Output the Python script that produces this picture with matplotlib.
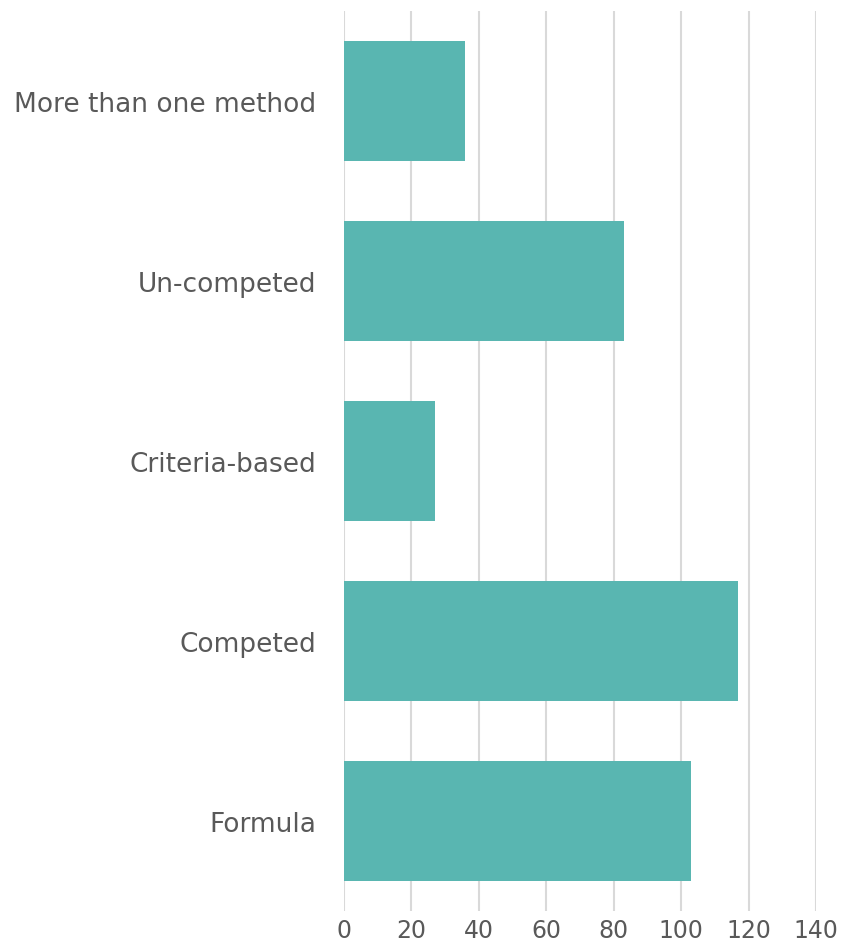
import matplotlib
matplotlib.use('Agg')
import matplotlib.pyplot as plt

plt.rcParams['font.family'] = ['DejaVu Sans']

# data (top to bottom as shown)
categories = ['More than one method', 'Un-competed', 'Criteria-based', 'Competed', 'Formula']
values = [36, 83, 27, 117, 103]
xticks = [0, 20, 40, 60, 80, 100, 120, 140]

fig = plt.figure(figsize=(8.41, 9.45), dpi=100)
ax = fig.add_axes([344 / 841, 1 - 912 / 945, (816 - 344) / 841, 900 / 945])

pos = list(range(len(categories)))
ax.barh(pos, values, height=0.667, color='#59B6B1', zorder=3)

ax.set_ylim(len(categories) - 0.5, -0.5)
ax.set_xlim(0, 140)
ax.set_xticks(xticks)
ax.set_yticks(pos)
ax.set_yticklabels(categories)

ax.grid(axis='x', color='#D9D9D9', linewidth=1.5, zorder=0)
ax.grid(axis='y', visible=False)
for s in ax.spines.values():
    s.set_visible(False)
ax.tick_params(axis='both', length=0, colors='#595959')
ax.tick_params(axis='y', pad=20, labelsize=19)
ax.tick_params(axis='x', pad=5, labelsize=17)

plt.savefig('out.png', dpi=100)
